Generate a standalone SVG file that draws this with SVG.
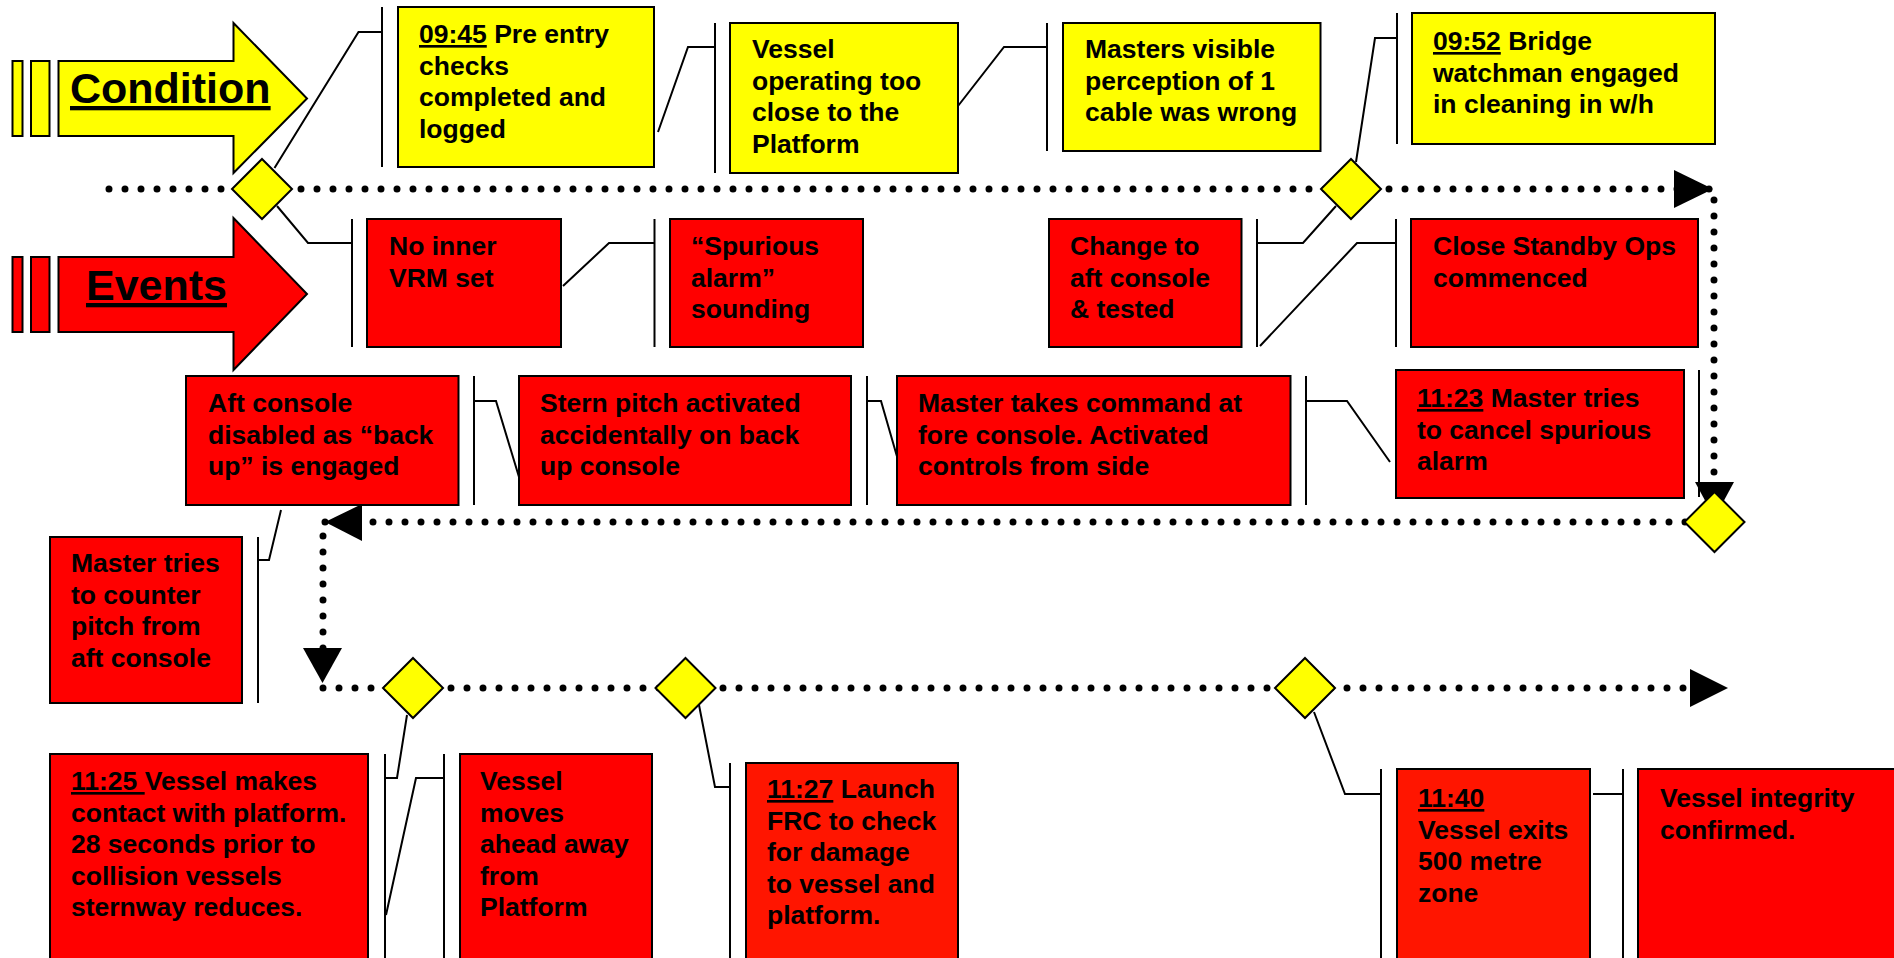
<svg xmlns="http://www.w3.org/2000/svg" xmlns:xlink="http://www.w3.org/1999/xlink" width="1894" height="958" viewBox="0 0 1894 958">
<style>
.cond{fill:#FFFF00;stroke:#000;stroke-width:2}
.evt{fill:#FF0000;stroke:#000;stroke-width:2}
.evt2{fill:#FF1500;stroke:#000;stroke-width:2}
.t{font-family:"Liberation Sans",Arial,sans-serif;font-weight:bold;font-size:26.5px;fill:#000}
.big{font-family:"Liberation Sans",Arial,sans-serif;font-weight:bold;font-size:43px;fill:#000;text-decoration:underline}
.u{text-decoration:underline}
.br{stroke:#000;stroke-width:2;fill:none}
.ld{stroke:#000;stroke-width:2;fill:none;stroke-linejoin:miter}
.dot{stroke:#000;stroke-width:7;stroke-linecap:round;stroke-dasharray:0 16;fill:none}
.ah{fill:#000;stroke:none}
.dia{fill:#FFFF00;stroke:#000;stroke-width:2}
</style>
<defs>
<polygon id="diamond" points="0,-30 30,0 0,30 -30,0"/>
</defs>
<rect width="1894" height="958" fill="#fff"/>

<g id="title-condition">
<rect class="cond" x="12.5" y="61" width="10" height="75"/>
<rect class="cond" x="31" y="61" width="18.5" height="75"/>
<polygon class="cond" points="58.5,61 233.5,61 233.5,23 307,98.5 233.5,173 233.5,136 58.5,136"/>
<text class="big" x="70" y="103">Condition</text>
</g>
<g id="title-events">
<rect class="evt" x="12.5" y="257" width="10" height="75"/>
<rect class="evt" x="31" y="257" width="18.5" height="75"/>
<polygon class="evt" points="58.5,257 233.5,257 233.5,218 307,294 233.5,370 233.5,332 58.5,332"/>
<text class="big" x="86" y="300">Events</text>
</g>

<g id="connectors">
<path class="dot" d="M109,189 H1714 V480"/>
<polygon class="ah" points="1674,170 1713,189 1674,208"/>
<polygon class="ah" points="1695,482 1734,482 1714.5,518"/>
<path class="dot" d="M1685,522 H323 V650"/>
<polygon class="ah" points="325,522 362,504 362,541"/>
<polygon class="ah" points="303,648 342,648 322.5,683"/>
<path class="dot" d="M323,688 H1684"/>
<polygon class="ah" points="1690,669 1728,688 1690,707"/>

<polyline class="ld" points="274.5,168 358.5,32 382,32"/>
<polyline class="ld" points="658,132 688,47 715,47"/>
<polyline class="ld" points="958,106 1004,47 1047,47"/>
<polyline class="ld" points="1356,162 1375,38 1397,38"/>
<polyline class="ld" points="277,206 308,243 352,243"/>
<polyline class="ld" points="563,286 609,243 654.5,243"/>
<polyline class="ld" points="1257,243 1303,243 1336,206"/>
<polyline class="ld" points="1260,346 1357,243 1396,243"/>
<polyline class="ld" points="474,401 496,401 519,477"/>
<polyline class="ld" points="867,401 881,401 898,460"/>
<polyline class="ld" points="1306,401 1347,401 1390,462"/>
<polyline class="ld" points="258,560 269,560 281,510"/>
<polyline class="ld" points="407,715 397,778 385,778"/>
<polyline class="ld" points="444,778 416,778 386,915"/>
<polyline class="ld" points="699,705 715,787 730,787"/>
<polyline class="ld" points="1314,712 1345,794 1381,794"/>
<polyline class="ld" points="1593,794 1623,794"/>

<line class="br" x1="382" y1="7" x2="382" y2="167"/>
<line class="br" x1="715" y1="23" x2="715" y2="173"/>
<line class="br" x1="1047" y1="23" x2="1047" y2="151"/>
<line class="br" x1="1397" y1="13" x2="1397" y2="144"/>
<line class="br" x1="352" y1="219" x2="352" y2="347"/>
<line class="br" x1="654.5" y1="219" x2="654.5" y2="347"/>
<line class="br" x1="1257" y1="219" x2="1257" y2="347"/>
<line class="br" x1="1396" y1="219" x2="1396" y2="347"/>
<line class="br" x1="474" y1="376" x2="474" y2="505"/>
<line class="br" x1="867" y1="376" x2="867" y2="505"/>
<line class="br" x1="1306" y1="376" x2="1306" y2="505"/>
<line class="br" x1="1699" y1="370" x2="1699" y2="497"/>
<line class="br" x1="258" y1="537" x2="258" y2="703"/>
<line class="br" x1="385" y1="754" x2="385" y2="960"/>
<line class="br" x1="444" y1="754" x2="444" y2="960"/>
<line class="br" x1="730" y1="763" x2="730" y2="960"/>
<line class="br" x1="1381" y1="769" x2="1381" y2="960"/>
<line class="br" x1="1623" y1="769" x2="1623" y2="960"/>
</g>

<g id="milestones">
<use xlink:href="#diamond" href="#diamond" class="dia" x="262" y="189"/>
<use xlink:href="#diamond" href="#diamond" class="dia" x="1351" y="189"/>
<use xlink:href="#diamond" href="#diamond" class="dia" x="1714.5" y="522"/>
<use xlink:href="#diamond" href="#diamond" class="dia" x="413" y="688"/>
<use xlink:href="#diamond" href="#diamond" class="dia" x="685.5" y="688"/>
<use xlink:href="#diamond" href="#diamond" class="dia" x="1305" y="688"/>
</g>

<g id="c1">
<rect class="cond" x="398" y="7" width="256" height="160"/>
<text class="t"><tspan x="419" y="43"><tspan class="u">09:45</tspan> Pre entry</tspan><tspan x="419" y="74.5">checks</tspan><tspan x="419" y="106">completed and</tspan><tspan x="419" y="137.5">logged</tspan></text>
</g>
<g id="c2">
<rect class="cond" x="730" y="23" width="228" height="150"/>
<text class="t"><tspan x="752" y="58">Vessel</tspan><tspan x="752" y="89.5">operating too</tspan><tspan x="752" y="121">close to the</tspan><tspan x="752" y="152.5">Platform</tspan></text>
</g>
<g id="c3">
<rect class="cond" x="1063" y="23" width="257.5" height="128"/>
<text class="t"><tspan x="1085" y="58">Masters visible</tspan><tspan x="1085" y="89.5">perception of 1</tspan><tspan x="1085" y="121">cable was wrong</tspan></text>
</g>
<g id="c4">
<rect class="cond" x="1412" y="13" width="303" height="131"/>
<text class="t"><tspan x="1433" y="50"><tspan class="u">09:52</tspan> Bridge</tspan><tspan x="1433" y="81.5">watchman engaged</tspan><tspan x="1433" y="113">in cleaning in w/h</tspan></text>
</g>

<g id="e1">
<rect class="evt" x="367" y="219" width="194" height="128"/>
<text class="t"><tspan x="389" y="255">No inner</tspan><tspan x="389" y="286.5">VRM set</tspan></text>
</g>
<g id="e2">
<rect class="evt" x="670" y="219" width="193" height="128"/>
<text class="t"><tspan x="691" y="255">“Spurious</tspan><tspan x="691" y="286.5">alarm”</tspan><tspan x="691" y="318">sounding</tspan></text>
</g>
<g id="e3">
<rect class="evt" x="1049" y="219" width="192.5" height="128"/>
<text class="t"><tspan x="1070" y="255">Change to</tspan><tspan x="1070" y="286.5">aft console</tspan><tspan x="1070" y="318">&amp; tested</tspan></text>
</g>
<g id="e4">
<rect class="evt" x="1411" y="219" width="287" height="128"/>
<text class="t"><tspan x="1433" y="255">Close Standby Ops</tspan><tspan x="1433" y="286.5">commenced</tspan></text>
</g>
<g id="e5">
<rect class="evt" x="186" y="376" width="272.5" height="129"/>
<text class="t"><tspan x="208" y="412">Aft console</tspan><tspan x="208" y="443.5">disabled as “back</tspan><tspan x="208" y="475">up” is engaged</tspan></text>
</g>
<g id="e6">
<rect class="evt" x="519" y="376" width="332" height="129"/>
<text class="t"><tspan x="540" y="412">Stern pitch activated</tspan><tspan x="540" y="443.5">accidentally on back</tspan><tspan x="540" y="475">up console</tspan></text>
</g>
<g id="e7">
<rect class="evt" x="897" y="376" width="393.5" height="129"/>
<text class="t"><tspan x="918" y="412">Master takes command at</tspan><tspan x="918" y="443.5">fore console. Activated</tspan><tspan x="918" y="475">controls from side</tspan></text>
</g>
<g id="e8">
<rect class="evt" x="1396" y="370" width="288" height="128"/>
<text class="t"><tspan x="1417" y="407"><tspan class="u">11:23</tspan> Master tries</tspan><tspan x="1417" y="438.5">to cancel spurious</tspan><tspan x="1417" y="470">alarm</tspan></text>
</g>
<g id="e9">
<rect class="evt" x="50" y="537" width="192" height="166"/>
<text class="t"><tspan x="71" y="572">Master tries</tspan><tspan x="71" y="603.5">to counter</tspan><tspan x="71" y="635">pitch from</tspan><tspan x="71" y="666.5">aft console</tspan></text>
</g>
<g id="e10">
<rect class="evt" x="50" y="754" width="318" height="220"/>
<text class="t"><tspan x="71" y="790"><tspan class="u">11:25 </tspan>Vessel makes</tspan><tspan x="71" y="821.5">contact with platform.</tspan><tspan x="71" y="853">28 seconds prior to</tspan><tspan x="71" y="884.5">collision vessels</tspan><tspan x="71" y="916">sternway reduces.</tspan></text>
</g>
<g id="e11">
<rect class="evt" x="460" y="754" width="192" height="220"/>
<text class="t"><tspan x="480" y="790">Vessel</tspan><tspan x="480" y="821.5">moves</tspan><tspan x="480" y="853">ahead away</tspan><tspan x="480" y="884.5">from</tspan><tspan x="480" y="916">Platform</tspan></text>
</g>
<g id="e12">
<rect class="evt2" x="746" y="763" width="212" height="210"/>
<text class="t"><tspan x="767" y="798"><tspan class="u">11:27</tspan> Launch</tspan><tspan x="767" y="829.5">FRC to check</tspan><tspan x="767" y="861">for damage</tspan><tspan x="767" y="892.5">to vessel and</tspan><tspan x="767" y="924">platform.</tspan></text>
</g>
<g id="e13">
<rect class="evt2" x="1397" y="769" width="193" height="205"/>
<text class="t"><tspan x="1418" y="807" class="u">11:40</tspan><tspan x="1418" y="838.5">Vessel exits</tspan><tspan x="1418" y="870">500 metre</tspan><tspan x="1418" y="901.5">zone</tspan></text>
</g>
<g id="e14">
<rect class="evt" x="1638" y="769" width="270" height="205"/>
<text class="t"><tspan x="1660" y="807">Vessel integrity</tspan><tspan x="1660" y="838.5">confirmed.</tspan></text>
</g>
</svg>
